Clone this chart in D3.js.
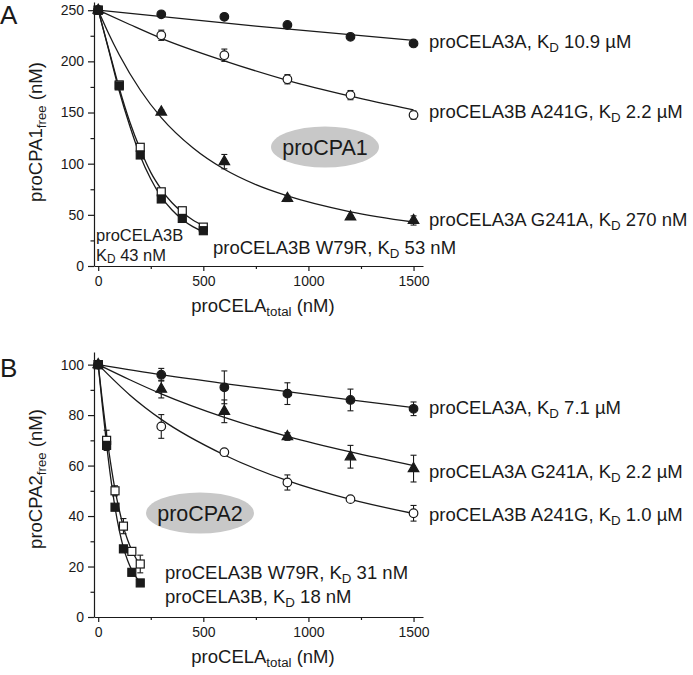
<!DOCTYPE html>
<html>
<head>
<meta charset="utf-8">
<script src="https://cdn.jsdelivr.net/npm/d3@7"></script>
<style>
  html, body { margin: 0; padding: 0; background: #fff; }
  svg { display: block; font-family: "Liberation Sans", Arial, sans-serif; }
</style>
</head>
<body>
<svg id="chart" width="693" height="675"></svg>
<script>
// ---------------- DATA ----------------
const xMajorTicks = [0, 500, 1000, 1500];
const xMinorTicks = [250, 750, 1250];
const aYTicks = [0, 50, 100, 150, 200, 250];
const aYMinor = [25, 75, 125, 175, 225];
const bYTicks = [0, 20, 40, 60, 80, 100];
const bYMinor = [10, 30, 50, 70, 90];

// Panel A: proCPA1 (points: [x, y, err])
const aCELA3A      = [[0,250,0],[300,246,1],[600,243.5,1.5],[900,235.5,1.5],[1200,224,1],[1500,217.5,1]];
const aCELA3B_A241G= [[0,250,0],[300,225.5,5],[600,206,6],[900,182.5,4.5],[1200,167,4.5],[1500,147.5,4]];
const aCELA3A_G241A= [[0,250,0],[300,150.5,2],[600,102,7],[900,66,3],[1200,48,1.5],[1500,44.5,4.5]];
const aCELA3B      = [[0,250,0],[100,176,1],[200,108.5,1],[300,65.5,1],[400,46.5,1],[500,34.5,1]];
const aCELA3B_W79R = [[0,250,0],[100,177,1],[200,116,1],[300,72.5,1],[400,54,3],[500,38,1]];

// Panel A fitted curves: [x, y]
const aFit3A      = [[0,250],[750,234.5],[1500,220.5]];
const aFit3B_A241G= [[0,250],[150,236],[300,222.5],[600,200.5],[900,181.5],[1200,166],[1500,152.5]];
const aFit3A_G241A= [[0,250],[50,227],[100,206.5],[200,172],[300,145],[450,115.5],[600,94.5],[750,79.5],[900,68.5],[1200,53],[1500,43]];
const aFit3B      = [[0,250],[50,211],[100,171],[150,137],[200,107.5],[250,85],[300,67.5],[350,55],[400,45.5],[450,38.5],[500,33.5]];
const aFit3B_W79R = [[0,250],[50,212],[100,174],[150,141],[200,114],[250,91.5],[300,75],[350,62],[400,52.5],[450,45],[500,39.5]];

// Panel B: proCPA2
const bCELA3A      = [[0,100,0],[300,96,2.5],[600,91,6.5],[900,88.5,4.3],[1200,86,4.3],[1500,82.5,2.7]];
const bCELA3A_G241A= [[0,100,0],[300,90.3,3.5],[600,81.5,4.5],[900,71.5,1.5],[1200,63.5,4.5],[1500,58.8,5.3]];
const bCELA3B_A241G= [[0,100,0],[300,75.5,4.7],[600,65.3,1],[900,53.3,3],[1200,46.7,1],[1500,41.1,3.1]];
const bCELA3B_W79R = [[0,100,0],[40,70,4],[80,50,2],[120,36,3],[160,26,1.5],[200,21,3.5]];
const bCELA3B      = [[0,100,0],[40,68,1],[80,43.5,1],[120,27,1],[160,17.7,1],[200,13.5,1]];

const bFit3A      = [[0,100],[300,96],[600,92.5],[900,89.3],[1200,86],[1500,83]];
const bFit3A_G241A= [[0,100],[150,94],[300,88.4],[600,79.1],[900,71.6],[1200,65.4],[1500,60]];
const bFit3B_A241G= [[0,100],[150,88],[300,78.3],[600,64.2],[900,54],[1200,46.6],[1500,41]];
const bFit3B_W79R = [[0,100],[20,85.5],[40,72],[60,60.5],[80,50.5],[100,42.5],[120,35.7],[140,30.5],[160,26.4],[180,23.2],[200,20.5]];
const bFit3B      = [[0,100],[20,83.5],[40,68.3],[60,54.8],[80,43.4],[100,34.4],[120,27.5],[140,22.4],[160,18.6],[180,15.8],[200,13.7]];

// ---------------- DRAW ----------------
const svg = d3.select("#chart");
const INK = "#1a1a1a";

function drawPanel(cfg) {
  const g = svg.append("g");
  const x = d3.scaleLinear().domain([-20, 1545]).range([94, 423]);
  const y = d3.scaleLinear().domain(cfg.yDomain).range(cfg.yRange);
  const fmt = d3.format("d");

  // axes
  g.append("g").attr("transform", `translate(0,${cfg.yRange[0]})`)
    .call(d3.axisBottom(x).tickValues(xMajorTicks).tickFormat(fmt).tickSize(5).tickPadding(5).tickSizeOuter(0));
  g.append("g").attr("transform", `translate(0,${cfg.yRange[0]})`)
    .call(d3.axisBottom(x).tickValues(xMinorTicks).tickSize(3).tickFormat("").tickSizeOuter(0))
    .select(".domain").remove();
  g.append("g").attr("transform", `translate(94,0)`)
    .call(d3.axisLeft(y).tickValues(cfg.yTicks).tickFormat(fmt).tickSize(6).tickPadding(4).tickSizeOuter(0));
  g.append("g").attr("transform", `translate(94,0)`)
    .call(d3.axisLeft(y).tickValues(cfg.yMinor).tickSize(3.5).tickFormat("").tickSizeOuter(0))
    .select(".domain").remove();
  g.selectAll(".domain, .tick line").attr("stroke", INK).attr("stroke-width", 1.2);
  g.selectAll(".tick text").attr("font-size", 14).attr("fill", INK)
    .attr("font-family", "Liberation Sans, Arial, sans-serif");

  // ellipse label
  g.append("ellipse").attr("cx", cfg.ell[0]).attr("cy", cfg.ell[1])
    .attr("rx", 54).attr("ry", 20.5).attr("fill", "#c8c8c8");
  g.append("text").attr("x", cfg.ell[0]).attr("y", cfg.ell[1] + 7.5)
    .attr("text-anchor", "middle").attr("font-size", 21.5).attr("fill", INK).text(cfg.ellText);

  // curves
  const line = d3.line().x(d => x(d[0])).y(d => y(d[1])).curve(d3.curveMonotoneX);
  cfg.fits.forEach(f => {
    g.append("path").attr("d", line(f)).attr("fill", "none")
      .attr("stroke", INK).attr("stroke-width", 1.3);
  });

  // error bars + markers
  cfg.series.forEach(s => {
    const eg = g.append("g").attr("stroke", INK).attr("stroke-width", 1.1);
    s.data.filter(d => d[2] > 0).forEach(d => {
      const cx = x(d[0]), y1 = y(d[1] - d[2]), y2 = y(d[1] + d[2]);
      eg.append("line").attr("x1", cx).attr("x2", cx).attr("y1", y1).attr("y2", y2);
      eg.append("line").attr("x1", cx - 3).attr("x2", cx + 3).attr("y1", y1).attr("y2", y1);
      eg.append("line").attr("x1", cx - 3).attr("x2", cx + 3).attr("y1", y2).attr("y2", y2);
    });
  });
  cfg.series.forEach(s => {
    const fill = s.open ? "#fff" : INK;
    s.data.forEach(d => {
      const cx = x(d[0]), cy = y(d[1]);
      let m;
      if (s.shape === "circle") {
        m = g.append("circle").attr("cx", cx).attr("cy", cy).attr("r", 4.3);
      } else if (s.shape === "square") {
        m = g.append("rect").attr("x", cx - 4).attr("y", cy - 4).attr("width", 8).attr("height", 8);
      } else {
        m = g.append("path").attr("d", d3.symbol(d3.symbolTriangle, 48)())
          .attr("transform", `translate(${cx},${cy})`);
      }
      m.attr("fill", fill).attr("stroke", INK).attr("stroke-width", 1.2);
    });
  });

  // series labels
  cfg.labels.forEach(l => {
    const t = g.append("text").attr("x", l.x).attr("y", l.y)
      .attr("font-size", 18.5).attr("fill", INK);
    t.append("tspan").text(l.pre);
    t.append("tspan").attr("dy", "0.28em").attr("font-size", "0.72em").text("D");
    t.append("tspan").attr("dy", "-0.2em").text(l.post);
  });
  if (cfg.extra) cfg.extra(g);

  // axis titles
  const xt = g.append("text").attr("x", 263).attr("y", cfg.yRange[0] + 46)
    .attr("text-anchor", "middle").attr("font-size", 18.5).attr("fill", INK);
  xt.append("tspan").text("proCELA");
  xt.append("tspan").attr("dy", "0.28em").attr("font-size", "0.72em").text("total");
  xt.append("tspan").attr("dy", "-0.2em").text(" (nM)");

  const yt = g.append("text").attr("transform", `translate(42,${cfg.yLabelY}) rotate(-90)`)
    .attr("text-anchor", "middle").attr("font-size", 18.5).attr("fill", INK);
  yt.append("tspan").text(cfg.yLabel);
  yt.append("tspan").attr("dy", "0.28em").attr("font-size", "0.72em").text("free");
  yt.append("tspan").attr("dy", "-0.2em").text(" (nM)");

  g.append("text").attr("x", 0).attr("y", cfg.letterY).attr("font-size", 26)
    .attr("fill", INK).text(cfg.letter);
}

drawPanel({
  letter: "A", letterY: 24,
  yDomain: [0, 258], yRange: [266, 2], yTicks: aYTicks, yMinor: aYMinor,
  yLabel: "proCPA1", yLabelY: 132,
  ell: [325, 147], ellText: "proCPA1",
  fits: [aFit3A, aFit3B_A241G, aFit3A_G241A, aFit3B, aFit3B_W79R],
  series: [
    {data: aCELA3B_W79R, shape: "square", open: true},
    {data: aCELA3B, shape: "square", open: false},
    {data: aCELA3B_A241G, shape: "circle", open: true},
    {data: aCELA3A_G241A, shape: "triangle", open: false},
    {data: aCELA3A, shape: "circle", open: false}
  ],
  labels: [
    {x: 429, y: 48, pre: "proCELA3A, K", post: " 10.9 µM"},
    {x: 429, y: 118, pre: "proCELA3B A241G, K", post: " 2.2 µM"},
    {x: 429, y: 226, pre: "proCELA3A G241A, K", post: " 270 nM"},
    {x: 213, y: 254, pre: "proCELA3B W79R, K", post: " 53 nM"}
  ],
  extra: g => {
    g.append("text").attr("x", 96).attr("y", 241).attr("font-size", 16.5).attr("fill", INK).text("proCELA3B");
    const t = g.append("text").attr("x", 96).attr("y", 261).attr("font-size", 16.5).attr("fill", INK);
    t.append("tspan").text("K");
    t.append("tspan").attr("dy", "0.15em").attr("font-size", "0.72em").text("D");
    t.append("tspan").attr("dy", "-0.1em").text(" 43 nM");
  }
});

drawPanel({
  letter: "B", letterY: 377,
  yDomain: [0, 105], yRange: [617, 352], yTicks: bYTicks, yMinor: bYMinor,
  yLabel: "proCPA2", yLabelY: 479,
  ell: [200, 513], ellText: "proCPA2",
  fits: [bFit3A, bFit3A_G241A, bFit3B_A241G, bFit3B_W79R, bFit3B],
  series: [
    {data: bCELA3B_W79R, shape: "square", open: true},
    {data: bCELA3B, shape: "square", open: false},
    {data: bCELA3B_A241G, shape: "circle", open: true},
    {data: bCELA3A_G241A, shape: "triangle", open: false},
    {data: bCELA3A, shape: "circle", open: false}
  ],
  labels: [
    {x: 429, y: 414, pre: "proCELA3A, K", post: " 7.1 µM"},
    {x: 429, y: 478, pre: "proCELA3A G241A, K", post: " 2.2 µM"},
    {x: 429, y: 521, pre: "proCELA3B A241G, K", post: " 1.0 µM"},
    {x: 165, y: 579, pre: "proCELA3B W79R, K", post: " 31 nM"},
    {x: 165, y: 603, pre: "proCELA3B, K", post: " 18 nM"}
  ]
});
</script>
</body>
</html>
